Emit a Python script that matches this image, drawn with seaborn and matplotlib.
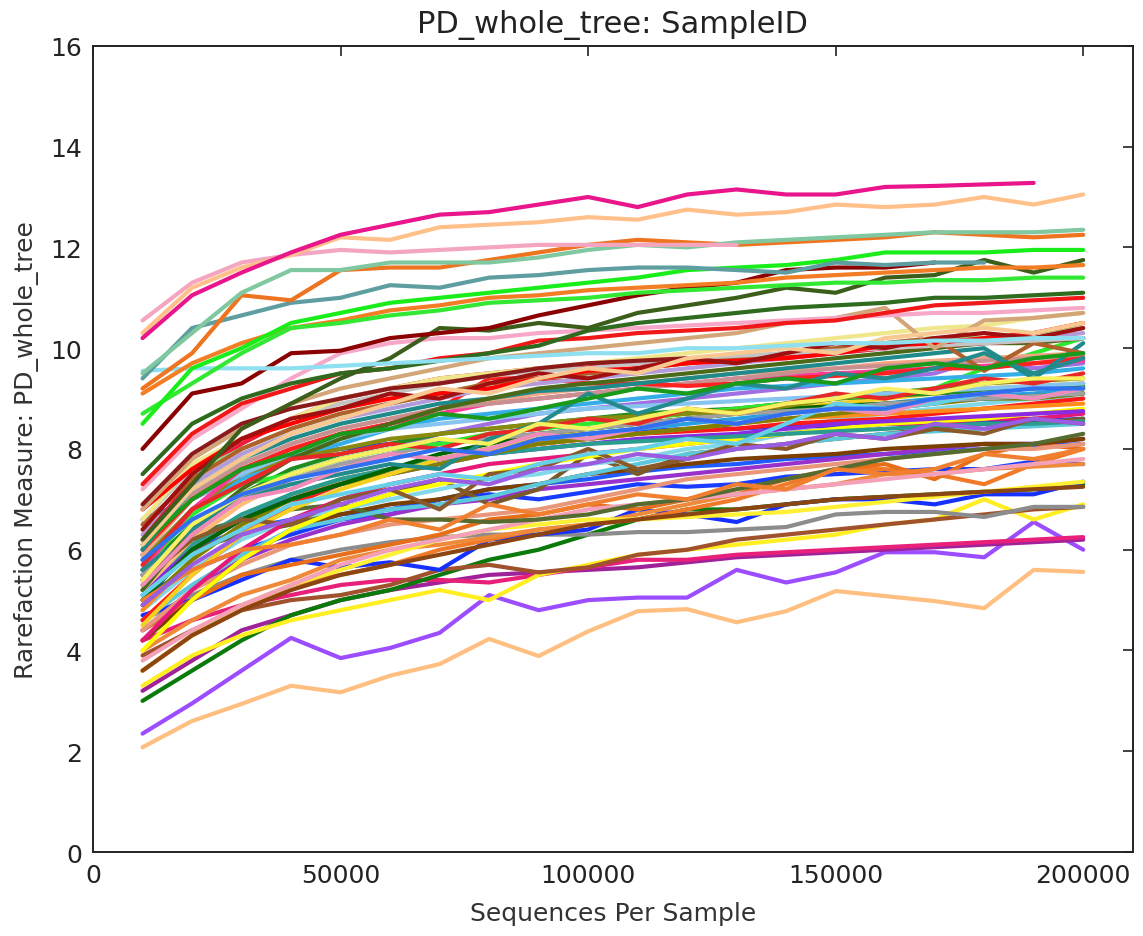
import matplotlib
matplotlib.use("Agg")
import matplotlib.pyplot as plt
import seaborn as sns
import pandas as pd

depths = [10000, 20000, 30000, 40000, 50000, 60000, 70000, 80000, 90000, 100000,
          110000, 120000, 130000, 140000, 150000, 160000, 170000, 180000, 190000, 200000]

# ---- lower / middle band ----
s_purple_low = [2.35, 2.95, 3.6, 4.25, 3.85, 4.05, 4.35, 5.1, 4.8, 5.0, 5.05, 5.05, 5.6, 5.35, 5.55, 5.95, 5.95, 5.85, 6.55, 6.0]
s_peach_low = [2.08, 2.6, 2.94, 3.3, 3.17, 3.5, 3.73, 4.23, 3.89, 4.38, 4.78, 4.82, 4.56, 4.78, 5.18, 5.08, 4.98, 4.84, 5.6, 5.56]
s_magenta_dk = [3.2, 3.8, 4.4, 4.7, 5.0, 5.2, 5.35, 5.5, 5.55, 5.6, 5.65, 5.75, 5.85, 5.9, 5.95, 6.0, 6.05, 6.1, 6.15, 6.2]
s_pink_low = [4.2, 4.6, 4.9, 5.1, 5.3, 5.4, 5.4, 5.35, 5.5, 5.65, 5.8, 5.8, 5.9, 5.95, 6.0, 6.05, 6.1, 6.15, 6.2, 6.25]
s_green_low = [3.0, 3.6, 4.2, 4.7, 5.0, 5.2, 5.5, 5.8, 6.0, 6.3, 6.6, 6.8, 6.8, 6.9, 7.0, 7.05, 7.1, 7.15, 7.2, 7.3]
s_yellow_low = [3.3, 3.9, 4.3, 4.6, 4.8, 5.0, 5.2, 5.0, 5.5, 5.7, 5.9, 6.0, 6.1, 6.2, 6.3, 6.5, 6.6, 7.0, 6.6, 6.9]
s_brown_low = [3.9, 4.4, 4.8, 5.0, 5.1, 5.3, 5.6, 5.7, 5.55, 5.65, 5.9, 6.0, 6.2, 6.3, 6.4, 6.5, 6.6, 6.7, 6.8, 6.85]
s_grey_low = [4.6, 5.1, 5.5, 5.8, 6.0, 6.15, 6.25, 6.3, 6.3, 6.3, 6.35, 6.35, 6.4, 6.45, 6.7, 6.75, 6.75, 6.65, 6.85, 6.85]
s_blue_a = [4.7, 5.0, 5.4, 5.8, 5.65, 5.75, 5.6, 6.2, 6.3, 6.4, 6.8, 6.7, 6.55, 6.9, 7.0, 7.0, 6.9, 7.1, 7.1, 7.35]
s_blue_b = [5.1, 5.6, 6.0, 6.3, 6.6, 6.7, 7.0, 7.1, 7.0, 7.15, 7.3, 7.25, 7.3, 7.45, 7.5, 7.55, 7.6, 7.6, 7.75, 7.7]
s_blue_c = [6.6, 7.0, 7.5, 7.85, 8.0, 8.1, 8.15, 8.2, 8.3, 8.3, 8.35, 8.4, 8.4, 8.45, 8.45, 8.5, 8.5, 8.55, 8.55, 8.6]
s_blue_d = [5.5, 6.0, 6.4, 6.6, 6.7, 6.8, 7.0, 7.2, 7.3, 7.4, 7.55, 7.65, 7.7, 7.8, 7.85, 7.9, 7.95, 8.0, 8.05, 8.1]
s_orange_a = [3.6, 4.3, 4.8, 5.3, 5.5, 5.7, 6.0, 6.2, 6.4, 6.5, 6.6, 6.8, 7.0, 7.3, 7.6, 7.6, 7.5, 7.3, 7.7, 8.0]
s_orange_b = [4.0, 4.6, 5.1, 5.4, 5.8, 6.0, 6.1, 6.25, 6.4, 6.5, 6.7, 6.9, 7.1, 7.2, 7.3, 7.5, 7.5, 7.6, 7.65, 7.7]
s_orange_c = [4.4, 5.0, 5.5, 5.7, 5.9, 6.1, 6.3, 6.6, 6.7, 6.9, 6.8, 7.0, 7.1, 7.4, 7.6, 7.7, 7.4, 7.9, 8.1, 8.0]
s_yellow_b = [3.6, 4.3, 4.9, 5.3, 5.6, 5.9, 6.2, 6.4, 6.5, 6.6, 6.6, 6.65, 6.7, 6.75, 6.85, 6.95, 7.05, 7.15, 7.25, 7.35]
s_pink_c = [3.8, 4.4, 4.9, 5.3, 5.7, 6.0, 6.2, 6.4, 6.6, 6.8, 6.9, 7.0, 7.1, 7.2, 7.3, 7.4, 7.5, 7.6, 7.7, 7.8]
s_brown_b = [3.6, 4.3, 4.8, 5.2, 5.5, 5.7, 5.9, 6.1, 6.3, 6.5, 6.6, 6.7, 6.8, 6.9, 7.0, 7.05, 7.1, 7.15, 7.2, 7.25]
s_purple_c = [4.4, 5.2, 5.8, 6.2, 6.5, 6.7, 6.9, 7.0, 7.2, 7.3, 7.4, 7.5, 7.6, 7.7, 7.8, 7.9, 8.0, 8.1, 8.1, 8.2]
s_salmon = [4.4, 5.2, 5.7, 6.1, 6.3, 6.5, 6.6, 6.7, 6.8, 7.0, 7.2, 7.4, 7.5, 7.6, 7.7, 7.8, 7.9, 8.0, 8.0, 8.1]
s_brown_dk = [4.2, 5.0, 5.8, 6.4, 6.7, 6.9, 7.0, 7.2, 7.3, 7.5, 7.6, 7.7, 7.8, 7.85, 7.9, 8.0, 8.05, 8.1, 8.1, 8.2]
s_olive_zig = [5.5, 6.0, 6.3, 6.5, 6.8, 7.1, 7.4, 6.9, 7.2, 7.9, 7.5, 7.9, 8.0, 8.1, 8.2, 8.3, 8.4, 8.5, 8.5, 8.6]
s_olive_flat = [5.9, 6.3, 6.6, 6.8, 6.9, 6.6, 6.6, 6.55, 6.6, 6.7, 6.9, 7.0, 7.2, 7.4, 7.6, 7.8, 7.9, 8.0, 8.1, 8.3]
s_cyan_a = [4.8, 5.6, 6.2, 6.6, 6.8, 7.0, 7.2, 7.4, 7.5, 7.7, 7.8, 8.0, 8.1, 8.3, 8.6, 8.7, 8.8, 8.9, 9.0, 9.0]
s_cyan_b = [4.6, 5.3, 5.9, 6.4, 6.6, 6.8, 6.9, 7.05, 7.3, 7.5, 7.7, 7.9, 8.0, 8.1, 8.2, 8.3, 8.35, 8.4, 8.45, 8.5]
s_sky_b = [5.0, 6.0, 6.6, 7.1, 7.4, 7.6, 7.8, 8.0, 8.15, 8.3, 8.4, 8.5, 8.6, 8.7, 8.8, 8.9, 9.0, 9.05, 9.1, 9.2]
s_pink_deep = [4.2, 5.2, 6.0, 6.6, 7.0, 7.3, 7.5, 7.7, 7.8, 7.9, 8.0, 8.1, 8.2, 8.3, 8.4, 8.5, 8.5, 8.6, 8.6, 8.7]
s_yellow_c = [4.0, 5.0, 5.8, 6.4, 6.8, 7.1, 7.3, 7.5, 7.7, 7.85, 8.0, 8.1, 8.2, 8.3, 8.4, 8.5, 8.55, 8.6, 8.7, 8.8]
s_red_d = [4.6, 5.5, 6.3, 6.9, 7.3, 7.6, 7.8, 8.0, 8.1, 8.2, 8.3, 8.35, 8.4, 8.5, 8.55, 8.6, 8.7, 8.8, 8.9, 9.0]
s_orange_d = [4.8, 5.8, 6.5, 7.0, 7.4, 7.6, 7.8, 8.0, 8.1, 8.2, 8.3, 8.4, 8.5, 8.6, 8.65, 8.7, 8.75, 8.8, 8.85, 8.9]
s_violet_b = [5.2, 6.0, 6.6, 7.0, 7.3, 7.5, 7.7, 7.9, 8.0, 8.1, 8.2, 8.25, 8.3, 8.4, 8.5, 8.55, 8.6, 8.65, 8.7, 8.75]
s_teal_b = [5.3, 6.1, 6.7, 7.1, 7.4, 7.6, 7.8, 7.9, 8.0, 8.1, 8.15, 8.2, 8.25, 8.3, 8.35, 8.4, 8.45, 8.5, 8.5, 8.55]
s_olive_b = [4.9, 5.8, 6.5, 7.0, 7.3, 7.5, 7.7, 7.9, 8.1, 8.2, 8.3, 8.4, 8.5, 8.6, 8.7, 8.8, 8.9, 9.0, 9.0, 9.1]
s_gold = [4.5, 5.5, 6.3, 6.8, 7.2, 7.5, 7.8, 8.0, 8.2, 8.4, 8.5, 8.6, 8.7, 8.8, 8.9, 9.0, 9.1, 9.2, 9.25, 9.3]
s_green_c = [5.0, 6.0, 6.6, 7.0, 7.3, 7.6, 7.9, 8.1, 8.3, 8.4, 8.5, 8.6, 8.7, 8.8, 8.85, 8.9, 8.95, 9.0, 9.05, 9.1]
s_peach_mid = [5.2, 6.2, 6.9, 7.4, 7.7, 7.9, 8.1, 8.3, 8.4, 8.5, 8.6, 8.7, 8.8, 8.9, 9.0, 9.1, 9.1, 9.2, 9.2, 9.3]
s_purple_m = [5.4, 6.4, 7.0, 7.5, 7.8, 8.0, 8.3, 8.5, 8.7, 8.8, 8.9, 9.0, 9.1, 9.2, 9.3, 9.4, 9.5, 9.8, 9.6, 9.7]
s_grey_b = [5.5, 6.4, 7.0, 7.4, 7.7, 7.9, 8.1, 8.2, 8.3, 8.4, 8.5, 8.6, 8.7, 8.75, 8.8, 8.9, 8.95, 9.0, 9.05, 9.1]
s_green_m = [5.6, 6.5, 7.1, 7.6, 7.9, 8.1, 8.3, 8.4, 8.5, 8.6, 8.7, 8.75, 8.8, 8.9, 9.0, 9.05, 9.1, 9.15, 9.2, 9.25]
s_lime_d = [5.6, 6.7, 7.3, 7.5, 7.8, 8.0, 8.1, 8.3, 8.4, 8.5, 8.6, 8.7, 8.8, 8.9, 9.0, 9.1, 9.2, 9.6, 9.9, 10.2]
s_sky_a = [5.8, 6.8, 7.4, 7.8, 8.1, 8.4, 8.6, 8.7, 8.8, 8.9, 9.0, 9.1, 9.2, 9.25, 9.3, 9.35, 9.4, 9.45, 9.5, 9.6]
s_olive_a = [5.8, 6.8, 7.5, 7.8, 8.0, 8.2, 8.3, 8.4, 8.5, 8.6, 8.65, 8.7, 8.75, 8.85, 9.0, 9.1, 9.2, 9.3, 9.35, 9.4]
s_lightblue = [5.9, 7.0, 7.5, 7.9, 8.2, 8.4, 8.5, 8.6, 8.7, 8.8, 8.85, 8.9, 8.95, 9.0, 9.05, 9.1, 9.15, 9.2, 9.25, 9.3]
s_hotpink = [5.6, 6.8, 7.6, 8.0, 8.3, 8.5, 8.7, 8.9, 9.0, 9.1, 9.2, 9.3, 9.4, 9.45, 9.5, 9.55, 9.6, 9.65, 9.7, 9.75]
s_salmon_b = [5.9, 7.0, 7.7, 8.1, 8.4, 8.6, 8.8, 8.95, 9.1, 9.2, 9.3, 9.4, 9.5, 9.55, 9.6, 9.7, 9.75, 9.8, 9.85, 9.9]
s_rosy = [6.0, 7.1, 7.7, 8.1, 8.4, 8.6, 8.8, 8.9, 9.0, 9.1, 9.2, 9.3, 9.4, 9.5, 9.6, 9.65, 9.7, 9.75, 9.8, 9.85]
s_red_c = [6.0, 7.0, 7.6, 8.0, 8.3, 8.5, 8.8, 9.4, 9.4, 9.3, 9.3, 9.25, 9.3, 9.4, 9.45, 9.5, 9.6, 9.6, 9.7, 9.8]
s_teal_a = [6.0, 7.2, 7.8, 8.2, 8.5, 8.7, 8.9, 9.0, 9.15, 9.2, 9.3, 9.4, 9.5, 9.6, 9.7, 9.8, 9.9, 10.0, 9.4, 10.1]
s_dkolive_b = [5.2, 6.4, 7.2, 7.8, 8.2, 8.5, 8.8, 9.0, 9.2, 9.3, 9.4, 9.5, 9.6, 9.7, 9.8, 9.9, 10.0, 10.1, 10.1, 10.2]
s_lavender = [6.3, 7.3, 7.9, 8.3, 8.6, 8.8, 9.0, 9.2, 9.3, 9.4, 9.5, 9.6, 9.7, 9.8, 9.9, 10.0, 10.1, 10.1, 10.2, 10.3]
s_red_e = [6.2, 7.4, 8.1, 8.6, 9.0, 9.2, 9.4, 9.5, 9.6, 9.65, 9.7, 9.75, 9.8, 9.85, 9.9, 10.0, 10.05, 10.1, 10.15, 10.2]
s_lightgreen = [6.4, 7.5, 8.0, 8.4, 8.7, 8.9, 9.1, 9.3, 9.4, 9.5, 9.6, 9.7, 9.8, 9.9, 10.0, 10.1, 10.2, 10.2, 10.3, 10.4]
s_sienna = [6.5, 7.4, 8.0, 8.4, 8.7, 8.9, 9.1, 9.3, 9.4, 9.5, 9.6, 9.7, 9.8, 9.9, 10.0, 10.1, 10.2, 9.55, 10.1, 9.9]
s_silver = [6.6, 7.6, 8.2, 8.6, 8.9, 9.1, 9.3, 9.45, 9.55, 9.6, 9.7, 9.8, 9.85, 9.9, 9.95, 10.0, 10.05, 10.1, 10.15, 10.2]
s_khaki = [6.6, 7.7, 8.2, 8.6, 9.0, 9.2, 9.4, 9.5, 9.6, 9.7, 9.8, 9.9, 10.0, 10.1, 10.2, 10.3, 10.4, 10.45, 10.6, 10.7]
s_red_b = [6.8, 7.6, 8.2, 8.5, 8.8, 9.0, 9.1, 9.2, 9.4, 9.55, 9.6, 9.7, 9.75, 9.8, 9.9, 10.05, 10.1, 10.2, 10.3, 10.5]
s_tan = [6.8, 7.8, 8.4, 8.9, 9.2, 9.4, 9.6, 9.8, 9.9, 10.0, 10.1, 10.2, 10.3, 10.5, 10.6, 10.8, 10.0, 10.55, 10.6, 10.7]
s_maroon_b = [6.9, 7.9, 8.5, 8.8, 9.0, 9.2, 9.3, 9.45, 9.6, 9.7, 9.75, 9.8]
s_pink_b = [7.2, 8.2, 8.8, 9.4, 9.9, 10.1, 10.2, 10.2, 10.3, 10.35, 10.4, 10.45, 10.5, 10.55, 10.6, 10.65, 10.7, 10.7, 10.75, 10.8]
s_red_a = [7.3, 8.3, 8.9, 9.2, 9.5, 9.6, 9.8, 9.9, 10.15, 10.2, 10.3, 10.35, 10.4, 10.5, 10.55, 10.7, 10.85, 10.9, 10.95, 11.0]
s_dkgreen_b = [7.5, 8.5, 9.0, 9.3, 9.5, 9.6, 9.75, 9.9, 10.05, 10.35, 10.5, 10.6, 10.7, 10.8, 10.85, 10.9, 11.0, 11.0, 11.05, 11.1]
# ---- extra irregular middle lines ----
s_x_teal = [5.6, 6.4, 7.0, 7.3, 7.5, 7.7, 7.6, 8.2, 8.5, 9.1, 8.7, 9.0, 9.3, 9.2, 9.5, 9.4, 9.6, 9.9, 9.5, 9.8]
s_x_orange = [5.0, 5.6, 6.0, 6.1, 6.3, 6.6, 6.4, 6.9, 6.7, 6.9, 7.1, 7.0, 7.3, 7.2, 7.6, 7.5, 7.6, 7.9, 7.8, 8.0]
s_x_brown = [5.4, 6.2, 6.6, 6.5, 7.0, 7.2, 6.8, 7.5, 7.6, 8.0, 7.6, 7.8, 8.1, 8.0, 8.3, 8.2, 8.4, 8.3, 8.6, 8.5]
s_x_cyan = [5.1, 5.9, 6.4, 6.9, 7.1, 7.3, 7.5, 7.4, 7.7, 7.9, 8.0, 8.2, 8.1, 8.5, 8.9, 8.8, 8.9, 9.1, 9.0, 9.2]
s_x_pink = [5.3, 6.3, 7.0, 7.2, 7.6, 7.9, 7.8, 8.0, 8.3, 8.2, 8.4, 8.6, 8.5, 8.7, 8.8, 8.7, 9.0, 9.1, 9.0, 9.2]
s_x_purple = [4.9, 5.7, 6.3, 6.6, 6.9, 7.2, 7.4, 7.3, 7.6, 7.7, 7.9, 7.8, 8.0, 8.1, 8.3, 8.2, 8.5, 8.4, 8.6, 8.5]
s_x_green = [6.1, 7.0, 7.6, 7.9, 8.3, 8.4, 8.7, 8.6, 8.8, 9.0, 9.2, 9.1, 9.3, 9.4, 9.3, 9.6, 9.7, 9.6, 9.8, 9.9]
s_x_red = [5.7, 6.8, 7.3, 7.8, 7.9, 8.1, 8.0, 8.3, 8.4, 8.6, 8.5, 8.8, 8.7, 8.9, 9.1, 9.0, 9.2, 9.4, 9.3, 9.5]
s_x_yellow = [5.4, 6.5, 7.1, 7.5, 7.8, 8.0, 8.2, 8.1, 8.5, 8.4, 8.6, 8.8, 8.7, 8.9, 9.0, 9.2, 9.1, 9.3, 9.4, 9.4]
s_x_blue = [5.8, 6.6, 7.1, 7.4, 7.6, 7.8, 8.0, 7.9, 8.2, 8.3, 8.4, 8.6, 8.5, 8.7, 8.8, 8.8, 9.0, 9.1, 9.2, 9.2]
s_x_dkred = [6.4, 7.5, 8.2, 8.6, 8.8, 9.1, 9.0, 9.3, 9.5, 9.4, 9.6, 9.8, 9.7, 9.9, 10.1, 10.0, 10.2, 10.3, 10.2, 10.4]
s_x_apricot = [6.1, 7.2, 7.8, 8.3, 8.6, 8.9, 9.2, 9.1, 9.4, 9.6, 9.5, 9.8, 9.9, 10.0, 9.9, 10.2, 10.3, 10.4, 10.3, 10.5]
# ---- upper band ----
s_dkolive = [6.2, 7.3, 8.4, 8.9, 9.4, 9.8, 10.4, 10.35, 10.5, 10.4, 10.7, 10.85, 11.0, 11.2, 11.1, 11.4, 11.45, 11.75, 11.5, 11.75]
s_maroon = [8.0, 9.1, 9.3, 9.9, 9.95, 10.2, 10.3, 10.4, 10.65, 10.85, 11.05, 11.2, 11.3, 11.55, 11.6, 11.6, 11.7]
s_skyflat = [9.55, 9.6, 9.6, 9.6, 9.65, 9.7, 9.75, 9.8, 9.85, 9.9, 9.9, 10.0, 10.0, 10.05, 10.1, 10.1, 10.15, 10.15, 10.2, 10.2]
s_orange_top2 = [9.1, 9.7, 10.1, 10.4, 10.55, 10.75, 10.85, 11.0, 11.05, 11.15, 11.2, 11.25, 11.3, 11.4, 11.45, 11.5, 11.55, 11.6, 11.6, 11.65]
s_lime_b = [8.7, 9.3, 9.9, 10.4, 10.5, 10.65, 10.75, 10.9, 10.95, 11.0, 11.1, 11.15, 11.2, 11.25, 11.3, 11.3, 11.35, 11.35, 11.4, 11.4]
s_lime_a = [8.5, 9.6, 10.0, 10.5, 10.7, 10.9, 11.0, 11.1, 11.2, 11.3, 11.4, 11.55, 11.6, 11.65, 11.75, 11.9, 11.9, 11.9, 11.95, 11.95]
s_cadet = [9.4, 10.4, 10.65, 10.9, 11.0, 11.25, 11.2, 11.4, 11.45, 11.55, 11.6, 11.6, 11.55, 11.5, 11.7, 11.65, 11.7, 11.7]
s_orange_top = [9.2, 9.9, 11.05, 10.95, 11.55, 11.6, 11.6, 11.75, 11.9, 12.05, 12.15, 12.1, 12.05, 12.1, 12.15, 12.2, 12.3, 12.25, 12.2, 12.25]
s_aqua = [9.5, 10.3, 11.1, 11.55, 11.55, 11.7, 11.7, 11.7, 11.8, 11.95, 12.05, 12.0, 12.1, 12.15, 12.2, 12.25, 12.3, 12.3, 12.3, 12.35]
s_pink_top = [10.55, 11.3, 11.7, 11.85, 11.95, 11.9, 11.95, 12.0, 12.05, 12.05, 12.05, 12.05, 12.05]
s_peach_top = [10.3, 11.2, 11.6, 11.85, 12.2, 12.15, 12.4, 12.45, 12.5, 12.6, 12.55, 12.75, 12.65, 12.7, 12.85, 12.8, 12.85, 13.0, 12.85, 13.05]
s_magenta_top = [10.2, 11.05, 11.5, 11.9, 12.25, 12.45, 12.65, 12.7, 12.85, 13.0, 12.8, 13.05, 13.15, 13.05, 13.05, 13.2, 13.22, 13.25, 13.28]

series = [
    ("purple_low", s_purple_low, "#9b4dff"), ("peach_low", s_peach_low, "#ffbf80"),
    ("magenta_dk", s_magenta_dk, "#a0229a"), ("pink_low", s_pink_low, "#e8207a"),
    ("green_low", s_green_low, "#0a7a0a"), ("yellow_low", s_yellow_low, "#ffee22"),
    ("brown_low", s_brown_low, "#a0522d"), ("grey_low", s_grey_low, "#8c8c8c"),
    ("blue_a", s_blue_a, "#1530ff"), ("blue_b", s_blue_b, "#1a3cff"),
    ("blue_c", s_blue_c, "#2240ee"), ("blue_d", s_blue_d, "#1f5cff"),
    ("orange_a", s_orange_a, "#f07a28"), ("orange_b", s_orange_b, "#ee8a3a"),
    ("orange_c", s_orange_c, "#e86f1a"), ("yellow_b", s_yellow_b, "#fff033"),
    ("pink_c", s_pink_c, "#f4a0b8"), ("brown_b", s_brown_b, "#8b4513"),
    ("purple_c", s_purple_c, "#9932cc"), ("salmon", s_salmon, "#e9967a"),
    ("brown_dk", s_brown_dk, "#7b3f00"), ("olive_zig", s_olive_zig, "#7a5a2a"),
    ("olive_flat", s_olive_flat, "#556b2f"), ("cyan_a", s_cyan_a, "#80d8e8"),
    ("cyan_b", s_cyan_b, "#5bc8dc"), ("sky_b", s_sky_b, "#2aa0e0"),
    ("pink_deep", s_pink_deep, "#e6197a"), ("yellow_c", s_yellow_c, "#ffff00"),
    ("red_d", s_red_d, "#ff1a1a"), ("orange_d", s_orange_d, "#ff8c1a"),
    ("violet_b", s_violet_b, "#8a2be2"), ("teal_b", s_teal_b, "#2a9d8f"),
    ("olive_b", s_olive_b, "#808000"), ("gold", s_gold, "#f5d020"),
    ("green_c", s_green_c, "#006400"), ("peach_mid", s_peach_mid, "#ffbb78"),
    ("purple_m", s_purple_m, "#a070e0"), ("grey_b", s_grey_b, "#a0a0a0"),
    ("green_m", s_green_m, "#228b22"), ("lime_d", s_lime_d, "#2ee82e"),
    ("sky_a", s_sky_a, "#35aee8"), ("olive_a", s_olive_a, "#8a8a10"),
    ("lightblue", s_lightblue, "#87c4f0"), ("hotpink", s_hotpink, "#ff3a9a"),
    ("salmon_b", s_salmon_b, "#f4a582"), ("rosy", s_rosy, "#c89090"),
    ("red_c", s_red_c, "#ff2020"), ("teal_a", s_teal_a, "#1f8a8a"),
    ("dkolive_b", s_dkolive_b, "#4a6a1a"), ("lavender", s_lavender, "#b19cd9"),
    ("red_e", s_red_e, "#ee1c3c"), ("lightgreen", s_lightgreen, "#90e090"),
    ("sienna", s_sienna, "#b0602a"), ("silver", s_silver, "#c4c4c4"),
    ("khaki", s_khaki, "#f0e68c"), ("red_b", s_red_b, "#ff0000"),
    ("tan", s_tan, "#d2a679"), ("maroon_b", s_maroon_b, "#8b1a1a"),
    ("pink_b", s_pink_b, "#f7a8c8"), ("red_a", s_red_a, "#f01818"),
    ("dkgreen_b", s_dkgreen_b, "#2e6b1e"),
    ("x_teal", s_x_teal, "#238b8b"), ("x_orange", s_x_orange, "#f08030"),
    ("x_brown", s_x_brown, "#8b5a2b"), ("x_cyan", s_x_cyan, "#66d0e8"),
    ("x_pink", s_x_pink, "#f08cb8"), ("x_purple", s_x_purple, "#9a5ce0"),
    ("x_green", s_x_green, "#1a9a1a"), ("x_red", s_x_red, "#e82828"),
    ("x_yellow", s_x_yellow, "#f8f060"), ("x_blue", s_x_blue, "#3070f0"),
    ("x_dkred", s_x_dkred, "#a01010"), ("x_apricot", s_x_apricot, "#f8c890"),
    ("dkolive", s_dkolive, "#3b5e1b"),
    ("maroon", s_maroon, "#8b0000"), ("skyflat", s_skyflat, "#8ee0f0"),
    ("orange_top2", s_orange_top2, "#f27d24"), ("lime_b", s_lime_b, "#33e833"),
    ("lime_a", s_lime_a, "#1aee1a"), ("cadet", s_cadet, "#5f9ea0"),
    ("orange_top", s_orange_top, "#ee7420"), ("aqua", s_aqua, "#80c8a0"),
    ("pink_top", s_pink_top, "#f4a6c0"), ("peach_top", s_peach_top, "#ffc08a"),
    ("magenta_top", s_magenta_top, "#e8168a"),
]

rows = []
for name, vals, _ in series:
    for d, v in zip(depths, vals):
        rows.append({"SampleID": name, "depth": d, "value": v})
df = pd.DataFrame(rows)
palette = {name: col for name, _, col in series}
order = [name for name, _, _ in series]

sns.set_style("white")
plt.rcParams["font.family"] = ["DejaVu Sans"]

fig = plt.figure(figsize=(11.43, 9.37), dpi=100)
ax = fig.add_axes([0.0814, 0.0896, 0.9096, 0.8604])
sns.lineplot(data=df, x="depth", y="value", hue="SampleID", hue_order=order,
             palette=palette, legend=False, errorbar=None, linewidth=3.0,
             estimator=None, sort=True, ax=ax)

ax.set_xlim(0, 210000)
ax.set_ylim(0, 16)
ax.set_xticks([0, 50000, 100000, 150000, 200000])
ax.set_xticklabels(["0", "50000", "100000", "150000", "200000"])
ax.set_yticks(range(0, 17, 2))
ax.tick_params(direction="in", top=True, right=True, length=7, width=1.2,
               labelsize=18, colors="#222222", pad=8)
for sp in ax.spines.values():
    sp.set_color("#222222")
    sp.set_linewidth(1.4)
ax.set_xlabel("Sequences Per Sample", fontsize=18, color="#333333", labelpad=10)
ax.set_ylabel("Rarefaction Measure: PD_whole_tree", fontsize=18, color="#333333", labelpad=8)
ax.set_title("PD_whole_tree: SampleID", fontsize=22, color="#222222", pad=10)

fig.savefig("out.png", dpi=100)
